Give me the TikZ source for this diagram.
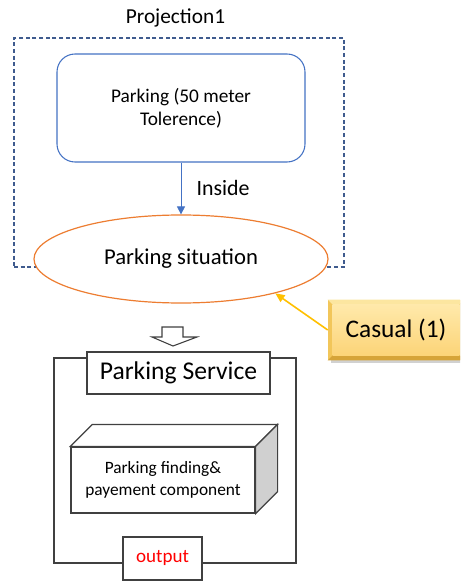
\documentclass[tikz,border=0pt]{standalone}
\usepackage{fontspec}
\setmainfont{Carlito}
\usetikzlibrary{shapes.geometric,arrows.meta,calc}
\definecolor{dashblue}{HTML}{3F5B8E}
\definecolor{boxblue}{HTML}{4472C4}
\definecolor{ellorange}{HTML}{ED7D31}
\definecolor{gold}{HTML}{FFC000}
\definecolor{framegray}{HTML}{404040}
\definecolor{outred}{HTML}{FF0000}
\definecolor{calmid}{HTML}{F2C65A}
\definecolor{caltop}{HTML}{FCE6A0}
\definecolor{calbot}{HTML}{D6A438}
\definecolor{calfaceA}{HTML}{FFE9AA}
\definecolor{calfaceB}{HTML}{FCD478}
\definecolor{sidegray}{HTML}{D0D0D0}
\tikzset{
  fs/.style={font=\fontsize{#1}{#1}\selectfont},
  plain/.style={draw=framegray, line width=0.9pt, fill=white, inner sep=0pt},
}
\begin{document}
\begin{tikzpicture}[x=0.75pt,y=-0.75pt]
\clip (0,0) rectangle (460,581);
\fill[white] (0,0) rectangle (460,581);

% projection frame
\node[draw=dashblue, line width=0.8pt, dash pattern=on 3pt off 2pt,
      minimum width=247.5pt, minimum height=171.75pt, inner sep=0pt] (proj) at (179,152.5) {};
\node[fs=16, anchor=center] (projlbl) at (175.5,18) {Projection1};

% parking box
\node[draw=boxblue, line width=0.8pt, rounded corners=13.5pt, fill=white,
      minimum width=186pt, minimum height=81pt, align=center,
      font=\fontsize{14.5}{17.25}\selectfont] (pk) at (181,108) {Parking (50 meter\\Tolerence)};

% parking situation ellipse
\node[ellipse, draw=ellorange, line width=0.9pt, fill=white, inner sep=0pt,
      minimum width=220.5pt, minimum height=66pt, fs=17] (ell) at (181,259) {Parking situation};

\draw[boxblue, line width=0.6pt, -{Triangle[length=6pt,width=6pt]}] (pk.south) -- (ell.north)
  node[midway, right=8pt, fs=16.4, text=black] (insidelbl) {Inside};

% callout
\node[minimum width=102pt, minimum height=45pt, inner sep=0pt] (cas) at (396,330) {};
\fill[black!18] ($(cas.north west)+(3,3)$) rectangle ($(cas.south east)+(3,3)$);
\fill[calmid] (cas.north west) rectangle (cas.south east);
\fill[caltop] (cas.north west) -- (cas.north east) -- ($(cas.north east)+(-5,5)$) -- ($(cas.north west)+(5,5)$) -- cycle;
\fill[calbot] (cas.south west) -- (cas.south east) -- ($(cas.south east)+(-5,-5)$) -- ($(cas.south west)+(5,-5)$) -- cycle;
\shade[top color=calfaceA, bottom color=calfaceB]
  ($(cas.north west)+(5,5)$) rectangle ($(cas.south east)+(-5,-5)$);
\node[fs=19] (caslbl) at (396,330) {Casual (1)};
\draw[gold, line width=1.2pt, -{Triangle[length=7pt,width=6pt]}] (cas.west) -- (ell.-20);

% open block arrow
\coordinate (ba) at (172.5,327);
\draw[framegray, line width=0.8pt, fill=white]
  ($(ba)+(-10.5,0)$) -- ($(ba)+(10.5,0)$) -- ($(ba)+(10.5,10)$) -- ($(ba)+(24.5,10)$)
  -- ($(ba)+(0.5,19)$) -- ($(ba)+(-20.5,10)$) -- ($(ba)+(-10.5,10)$) -- cycle;

% parking service frame
\node[plain, minimum width=181.5pt, minimum height=153.75pt, line width=1pt] (frame) at (175,460.5) {};
\node[plain, minimum width=137.25pt, minimum height=31.5pt, fs=19.2] (svc) at (178.5,373) {Parking Service};

% 3D component
\node[plain, minimum width=138pt, minimum height=49.5pt, align=center,
      font=\fontsize{13}{17}\selectfont] (comp) at (163,480) {Parking finding\&\\payement component};
\draw[framegray, line width=0.9pt, fill=white]
  (comp.north west) -- ($(comp.north west)+(22,-22)$) -- ($(comp.north east)+(22,-22)$) -- (comp.north east) -- cycle;
\draw[framegray, line width=0.9pt, fill=sidegray]
  (comp.north east) -- ($(comp.north east)+(22,-22)$) -- ($(comp.south east)+(22,-22)$) -- (comp.south east) -- cycle;

% output
\node[plain, minimum width=59.25pt, minimum height=32.25pt, fs=14.3, text=outred] (out) at (162.5,558.5) {output};
\end{tikzpicture}
\end{document}
